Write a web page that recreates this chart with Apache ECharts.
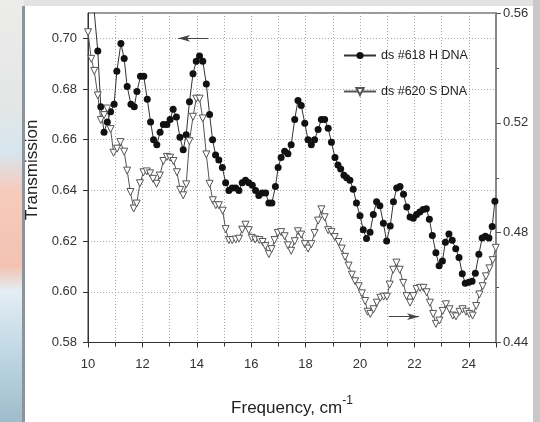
<!DOCTYPE html>
<html>
<head>
<meta charset="utf-8">
<script src="https://cdn.jsdelivr.net/npm/echarts@6/dist/echarts.min.js"></script>
<style>
  html, body { margin: 0; padding: 0; background: #fff; }
  #chart { width: 540px; height: 422px; }
</style>
</head>
<body>
<div id="chart"></div>
<script>
// ds #618 H DNA (left axis)
var freqH = [10.20, 10.36, 10.47, 10.59, 10.71, 10.83, 10.96, 11.06, 11.21, 11.33, 11.44, 11.58, 11.70, 11.80, 11.93,
  12.05, 12.18, 12.30, 12.41, 12.53, 12.65, 12.77, 12.90, 13.02, 13.13, 13.25, 13.38, 13.50, 13.61, 13.73, 13.86,
  13.98, 14.10, 14.22, 14.35, 14.47, 14.58, 14.69, 14.81, 14.94, 15.06, 15.18, 15.30, 15.43, 15.55, 15.67, 15.79,
  15.91, 16.04, 16.16, 16.28, 16.40, 16.53, 16.65, 16.76, 16.89, 16.99, 17.10, 17.23, 17.35, 17.47, 17.60, 17.72,
  17.84, 17.97, 18.09, 18.21, 18.33, 18.46, 18.58, 18.70, 18.83, 18.95, 19.08, 19.19, 19.29, 19.41, 19.51, 19.63,
  19.75, 19.87, 20.00, 20.12, 20.24, 20.37, 20.49, 20.61, 20.73, 20.86, 20.98, 21.11, 21.23, 21.35, 21.47, 21.60,
  21.72, 21.84, 21.96, 22.08, 22.20, 22.32, 22.44, 22.55, 22.66, 22.79, 22.91, 23.03, 23.14, 23.27, 23.39, 23.52,
  23.64, 23.76, 23.87, 24.00, 24.12, 24.24, 24.37, 24.49, 24.61, 24.74, 24.86, 24.96];
var transH = [0.714, 0.695, 0.673, 0.663, 0.667, 0.671, 0.674, 0.687, 0.698, 0.692, 0.681, 0.674, 0.673, 0.679, 0.685,
  0.685, 0.676, 0.667, 0.660, 0.658, 0.663, 0.666, 0.666, 0.668, 0.672, 0.669, 0.661, 0.656, 0.662, 0.675, 0.686,
  0.691, 0.693, 0.691, 0.682, 0.670, 0.660, 0.654, 0.652, 0.649, 0.643, 0.640, 0.641, 0.641, 0.640, 0.643, 0.644,
  0.643, 0.642, 0.640, 0.638, 0.639, 0.639, 0.635, 0.635, 0.6415, 0.649, 0.653, 0.6555, 0.6545, 0.658, 0.668, 0.6755,
  0.6735, 0.6665, 0.660, 0.658, 0.660, 0.664, 0.668, 0.668, 0.6645, 0.659, 0.653, 0.650, 0.6485, 0.646, 0.645, 0.644,
  0.6405, 0.635, 0.630, 0.6245, 0.621, 0.6235, 0.6305, 0.6355, 0.634, 0.627, 0.620, 0.626, 0.6355, 0.641, 0.6415, 0.6385,
  0.6335, 0.6295, 0.629, 0.6305, 0.6315, 0.6325, 0.6328, 0.6286, 0.6222, 0.6154, 0.6103, 0.6122, 0.6196, 0.6228, 0.6203, 0.617,
  0.6135, 0.6071, 0.6034, 0.6038, 0.6042, 0.6073, 0.6148, 0.6212, 0.6219, 0.6212, 0.6258, 0.6357];

// ds #620 S DNA (right axis)
var freqS = [10.00, 10.12, 10.23, 10.36, 10.47, 10.59, 10.71, 10.83, 10.94, 11.07, 11.19, 11.33, 11.44, 11.56, 11.68,
  11.79, 11.91, 12.04, 12.16, 12.28, 12.39, 12.52, 12.64, 12.77, 12.90, 13.02, 13.14, 13.27, 13.39, 13.50, 13.61,
  13.73, 13.86, 13.98, 14.10, 14.22, 14.35, 14.47, 14.59, 14.70, 14.81, 14.95, 15.06, 15.18, 15.30, 15.43, 15.55,
  15.67, 15.79, 15.91, 16.02, 16.15, 16.30, 16.42, 16.52, 16.65, 16.75, 16.86, 16.98, 17.10, 17.23, 17.35, 17.47,
  17.60, 17.72, 17.84, 17.97, 18.09, 18.21, 18.33, 18.46, 18.58, 18.70, 18.83, 18.95, 19.07, 19.21, 19.33, 19.45,
  19.58, 19.70, 19.82, 19.95, 20.07, 20.19, 20.28, 20.38, 20.50, 20.62, 20.75, 20.87, 20.99, 21.09, 21.22, 21.34,
  21.46, 21.59, 21.71, 21.84, 21.96, 22.08, 22.21, 22.33, 22.45, 22.57, 22.69, 22.79, 22.92, 23.04, 23.16, 23.29,
  23.41, 23.53, 23.66, 23.77, 23.90, 24.02, 24.14, 24.27, 24.39, 24.51, 24.63, 24.76, 24.88, 24.99];
var transS = [0.553, 0.5433, 0.5389, 0.530, 0.521, 0.5228, 0.5252, 0.5177, 0.5091, 0.5106, 0.513, 0.5095, 0.5026, 0.4948, 0.4888,
  0.4906, 0.498, 0.502, 0.5023, 0.5016, 0.4996, 0.4978, 0.5008, 0.5061, 0.5076, 0.5073, 0.5061, 0.502, 0.4956, 0.4936, 0.4976,
  0.5133, 0.5222, 0.5288, 0.5288, 0.5216, 0.5085, 0.4978, 0.4918, 0.490, 0.490, 0.488, 0.4813, 0.4773, 0.4773, 0.4775, 0.4778,
  0.4811, 0.4829, 0.4809, 0.4781, 0.4775, 0.4773, 0.4766, 0.4751, 0.4722, 0.474, 0.4773, 0.4799, 0.4802, 0.4787, 0.4754, 0.4734,
  0.4769, 0.4805, 0.4793, 0.4758, 0.4742, 0.4758, 0.4799, 0.4844, 0.4885, 0.4856, 0.4809, 0.4802, 0.4784, 0.4766, 0.4742, 0.4712,
  0.468, 0.4647, 0.4623, 0.4605, 0.4579, 0.4551, 0.4512, 0.4504, 0.4521, 0.4545, 0.4563, 0.4567, 0.4567, 0.4611, 0.4665, 0.4691,
  0.4665, 0.4617, 0.4569, 0.4545, 0.4569, 0.4595, 0.4599, 0.4599, 0.4583, 0.4545, 0.4504, 0.4468, 0.448, 0.4515, 0.4539, 0.4521,
  0.4498, 0.4495, 0.4512, 0.4521, 0.4512, 0.4504, 0.4498, 0.4533, 0.4575, 0.4605, 0.4641, 0.467, 0.470, 0.4745];

// arrows showing which axis each curve belongs to
var arrowLeft = [[14.42, 0.700], [13.31, 0.700]];
var arrowRight = [[21.06, 0.4494], [22.17, 0.4494]];

var pairs = function (xs, ys) {
  var out = [];
  for (var i = 0; i < xs.length; i++) out.push([xs[i], ys[i]]);
  return out;
};

var font = 'Liberation Sans';
var arrowMark = function (pts) {
  return {
    silent: true,
    symbol: ['none', 'arrow'],
    symbolSize: [5, 12],
    label: { show: false },
    lineStyle: { color: '#444', width: 1, type: 'solid' },
    data: [[{ coord: pts[0] }, { coord: pts[1] }]]
  };
};

var chart = echarts.init(document.getElementById('chart'));
var option = {
  backgroundColor: '#fff',
  animation: false,
  textStyle: { fontFamily: font },
  graphic: [
    { type: 'rect', z: -10, shape: { x: 0, y: 0, width: 24, height: 422 },
      style: { fill: new echarts.graphic.LinearGradient(0, 0, 0, 1, [
        { offset: 0, color: '#ececea' }, { offset: 0.25, color: '#e4e6e6' },
        { offset: 0.36, color: '#d6e6ef' }, { offset: 0.45, color: '#f6cbbd' },
        { offset: 0.63, color: '#f3c2b3' }, { offset: 0.69, color: '#e4eef4' },
        { offset: 0.82, color: '#c3dae6' }, { offset: 1, color: '#9fbccc' }]) } },
    { type: 'rect', z: -10, shape: { x: 22, y: 6, width: 3, height: 416 }, style: { fill: '#8d9499' } },
    { type: 'rect', z: -10, shape: { x: 24, y: 0, width: 516, height: 6 }, style: { fill: '#e2e2e2' } },
    { type: 'rect', z: -10, shape: { x: 533, y: 0, width: 7, height: 422 }, style: { fill: '#c8c8c8' } }
  ],
  grid: {
    left: 88, right: 44, top: 13, bottom: 74,
    show: true, borderColor: '#333', borderWidth: 1, backgroundColor: 'transparent'
  },
  legend: {
    orient: 'vertical',
    left: 338, top: 44,
    itemWidth: 32, itemHeight: 9, itemGap: 23,
    textStyle: { fontFamily: font, fontSize: 12.5, color: '#222' },
    data: ['ds #618 H DNA', 'ds #620 S DNA']
  },
  xAxis: {
    type: 'value', min: 10, max: 25, interval: 2,
    name: 'Frequency, cm{sup|-1}', nameLocation: 'middle', nameGap: 52,
    nameTextStyle: {
      fontFamily: font, fontSize: 17, color: '#222',
      rich: { sup: { fontFamily: font, fontSize: 12, color: '#222', verticalAlign: 'top', lineHeight: 28 } }
    },
    axisLine: { lineStyle: { color: '#333', width: 1 } },
    axisTick: { inside: false, length: 5, lineStyle: { color: '#333' } },
    minorTick: { show: true, splitNumber: 2, length: 4, lineStyle: { color: '#333' } },
    axisLabel: { fontSize: 13, color: '#333', margin: 15, showMaxLabel: false },
    splitLine: { show: true, lineStyle: { color: '#aaa', type: [1, 2], width: 1 } },
    minorSplitLine: { show: true, lineStyle: { color: '#aaa', type: [1, 2], width: 1 } }
  },
  yAxis: [{
    type: 'value', min: 0.58, max: 0.71, interval: 0.02, position: 'left',
    name: 'Transmission', nameLocation: 'middle', nameGap: 47, nameRotate: 90,
    nameTextStyle: { fontFamily: font, fontSize: 17, color: '#222', padding: [0, 0, 0, 16] },
    axisLine: { show: true, lineStyle: { color: '#333', width: 1 } },
    axisTick: { show: true, inside: false, length: 5, lineStyle: { color: '#333' } },
    axisLabel: { fontSize: 13, color: '#333', margin: 11, showMaxLabel: false,
      formatter: function (v) { return v.toFixed(2); } },
    splitLine: { show: true, lineStyle: { color: '#aaa', type: [1, 2], width: 1 } }
  }, {
    type: 'value', min: 0.44, max: 0.56, interval: 0.04, position: 'right',
    axisLine: { show: true, lineStyle: { color: '#888', width: 2 } },
    axisTick: { show: true, inside: false, length: 5, lineStyle: { color: '#555' } },
    minorTick: { show: true, splitNumber: 2, length: 3, lineStyle: { color: '#555' } },
    axisLabel: { fontSize: 13, color: '#333', margin: 7,
      formatter: function (v) { return v.toFixed(2); } },
    splitLine: { show: false }
  }],
  series: [{
    name: 'ds #618 H DNA',
    type: 'line',
    yAxisIndex: 0,
    data: pairs(freqH, transH),
    clip: true,
    symbol: 'circle', symbolSize: 7,
    lineStyle: { color: '#333', width: 1 },
    itemStyle: { color: '#111', borderColor: '#111', borderWidth: 0 },
    markLine: arrowMark(arrowLeft)
  }, {
    name: 'ds #620 S DNA',
    type: 'line',
    yAxisIndex: 1,
    data: pairs(freqS, transS),
    clip: true,
    symbol: 'triangle', symbolRotate: 180, symbolSize: 7,
    lineStyle: { color: '#555', width: 1 },
    itemStyle: { color: '#fff', borderColor: '#555', borderWidth: 1 },
    markLine: arrowMark(arrowRight)
  }]
};
chart.setOption(option);
</script>
</body>
</html>
